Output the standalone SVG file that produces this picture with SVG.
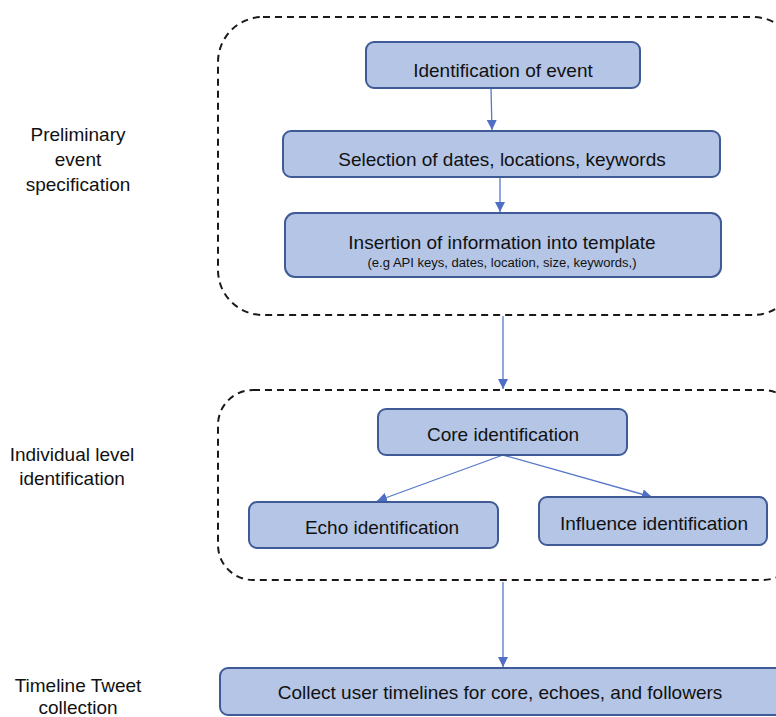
<svg xmlns="http://www.w3.org/2000/svg" width="776" height="717" viewBox="0 0 776 717">
<defs>
<style>
.node{fill:#b4c5e6;stroke:#3f5a96;stroke-width:2}
.grp{fill:none;stroke:#1a1a1a;stroke-width:2;stroke-dasharray:7,5}
.t{font-family:"Liberation Sans",Arial,sans-serif;font-size:19px;fill:#111;text-anchor:middle}
.s{font-family:"Liberation Sans",Arial,sans-serif;font-size:12px;fill:#111;text-anchor:middle}
.lbl{font-family:"Liberation Sans",Arial,sans-serif;font-size:19px;fill:#111;text-anchor:middle}
.c{fill:none;stroke:#5878c8;stroke-width:1.3}
</style>
<marker id="ah" viewBox="0 0 10 10" refX="10" refY="5" markerWidth="10" markerHeight="10" markerUnits="userSpaceOnUse" orient="auto">
<path d="M0,0 L10,5 L0,10 z" fill="#4f6fc6"/>
</marker>
</defs>
<rect width="776" height="717" fill="#ffffff"/>
<g id="groups">
<rect id="group1" class="grp" x="218" y="17" width="580" height="298" rx="45"/>
<rect id="group2" class="grp" x="218" y="390" width="580" height="190" rx="35"/>
</g>
<g id="labels">
<text class="lbl" x="78" y="141">Preliminary</text>
<text class="lbl" x="78" y="166">event</text>
<text class="lbl" x="78" y="191">specification</text>
<text class="lbl" x="72" y="461">Individual level</text>
<text class="lbl" x="72" y="485">identification</text>
<text class="lbl" x="78" y="692">Timeline Tweet</text>
<text class="lbl" x="78" y="714">collection</text>
</g>
<g id="connectors">
<line class="c" x1="491" y1="88" x2="492" y2="130" marker-end="url(#ah)"/>
<line class="c" x1="500" y1="177" x2="500" y2="212" marker-end="url(#ah)"/>
<line class="c" x1="503" y1="316" x2="503" y2="389" marker-end="url(#ah)"/>
<line class="c" x1="503" y1="455" x2="377" y2="501" marker-end="url(#ah)"/>
<line class="c" x1="503" y1="455" x2="652" y2="497" marker-end="url(#ah)"/>
<line class="c" x1="503" y1="582" x2="503" y2="667" marker-end="url(#ah)"/>
</g>
<g id="n1"><rect class="node" x="366" y="42" width="274" height="46" rx="8"/><text class="t" x="503" y="77">Identification of event</text></g>
<g id="n2"><rect class="node" x="283" y="131" width="437" height="46" rx="8"/><text class="t" x="502" y="166">Selection of dates, locations, keywords</text></g>
<g id="n3"><rect class="node" x="285" y="213" width="436" height="64" rx="10"/><text class="t" x="502" y="249">Insertion of information into template</text><text class="s" x="502" y="267" textLength="269" lengthAdjust="spacingAndGlyphs">(e.g API keys, dates, location, size, keywords,)</text></g>
<g id="n4"><rect class="node" x="378" y="409" width="249" height="46" rx="8"/><text class="t" x="503" y="441">Core identification</text></g>
<g id="n5"><rect class="node" x="249" y="502" width="249" height="46" rx="8"/><text class="t" x="382" y="534">Echo identification</text></g>
<g id="n6"><rect class="node" x="539" y="497" width="228" height="48" rx="8"/><text class="t" x="654" y="530">Influence identification</text></g>
<g id="n7"><rect class="node" x="220" y="668" width="570" height="47" rx="8"/><text class="t" x="500" y="699">Collect user timelines for core, echoes, and followers</text></g>
</svg>
